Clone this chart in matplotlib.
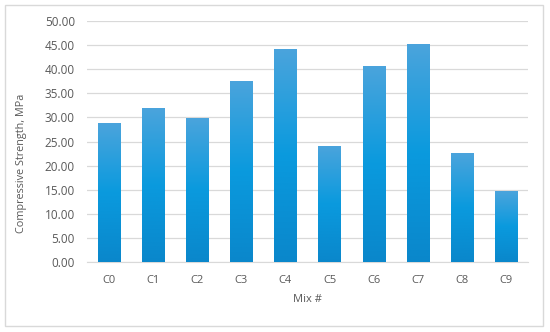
import numpy as np
import matplotlib.pyplot as plt
from matplotlib.colors import LinearSegmentedColormap
from matplotlib.patches import Rectangle

mixes = ['C0', 'C1', 'C2', 'C3', 'C4', 'C5', 'C6', 'C7', 'C8', 'C9']
strength = [28.8, 31.9, 29.9, 37.6, 44.2, 24.1, 40.7, 45.2, 22.6, 14.7]

plt.rcParams['font.family'] = ['Open Sans', 'DejaVu Sans']
txt = '#595959'

fig = plt.figure(figsize=(5.5, 3.32), dpi=100)
ax = fig.add_axes([0.158, 0.2108, 0.802, 0.7259])

# рамка вокруг диаграммы
fig.patches.append(Rectangle((0.009, 0.018), 0.978, 0.967, transform=fig.transFigure,
                             fill=False, edgecolor='#d9d9d9', linewidth=1.0))

cmap = LinearSegmentedColormap.from_list('bar', ['#0a87cb', '#0a9ade', '#4ba4dc'])
grad = np.linspace(0, 1, 256).reshape(-1, 1)

x = np.arange(len(mixes))
bars = ax.bar(x, strength, width=0.5, color='none', zorder=3)
for b in bars:
    x0, w, h = b.get_x(), b.get_width(), b.get_height()
    # тень
    ax.add_patch(Rectangle((x0 + 0.02, -0.3), w, h, facecolor='#bfbfbf', alpha=0.5,
                           edgecolor='none', zorder=2))
    im = ax.imshow(grad, cmap=cmap, origin='lower', aspect='auto',
                   extent=(x0, x0 + w, 0, h), zorder=3)
    im.set_clip_path(b)

ax.set_xlim(-0.5, len(mixes) - 0.5)
ax.set_ylim(0, 50)
ax.set_yticks(np.arange(0, 50.1, 5))
ax.set_yticklabels(['%.2f' % v for v in np.arange(0, 50.1, 5)])
ax.set_xticks(x)
ax.set_xticklabels(mixes)
ax.grid(axis='y', color='#d9d9d9', linewidth=0.9, zorder=0)
ax.set_axisbelow(True)
for s in ['top', 'right', 'left']:
    ax.spines[s].set_visible(False)
ax.spines['bottom'].set_color('#d9d9d9')
ax.tick_params(length=0, colors=txt)
ax.tick_params(axis='y', labelsize=8.5, pad=8.6)
ax.tick_params(axis='x', labelsize=8, pad=9)
ax.set_xlabel('Mix #', fontsize=8, color=txt, labelpad=6)
fig.text(22 / 550, 1 - 163 / 332, 'Compressive Strength, MPa', rotation=90,
         ha='center', va='center', fontsize=7.8, color=txt)

fig.savefig('out.png', dpi=100)
